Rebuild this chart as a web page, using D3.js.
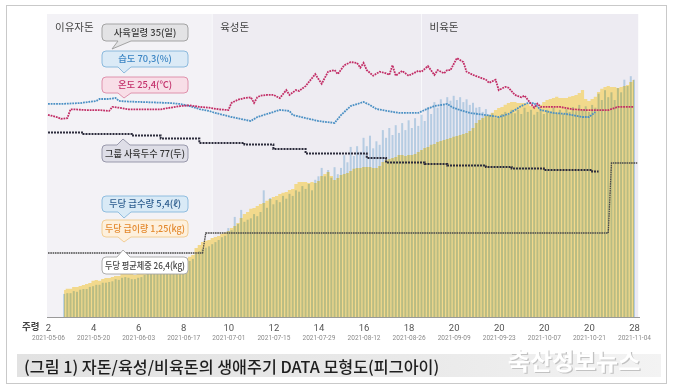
<!DOCTYPE html>
<html>
<head>
<meta charset="utf-8">
<script src="https://cdn.jsdelivr.net/npm/d3@7"></script>
<style>
  body { margin: 0; background: #fff; }
  svg { display: block; font-family: "Noto Sans CJK KR", "Noto Sans", sans-serif; }
</style>
</head>
<body>
<script>
// ---- data ----
var startDate = "2021-05-06";
var dateLabels = ["2021-05-06", "2021-05-20", "2021-06-03", "2021-06-17", "2021-07-01", "2021-07-15", "2021-07-29",
    "2021-08-12", "2021-08-26", "2021-09-09", "2021-09-23", "2021-10-07", "2021-10-21", "2021-11-04"];
var weekLabels = ["2", "4", "6", "8", "10", "12", "14", "16", "18", "20", "20", "20", "20", "28"];

var stageNames = ["이유자돈", "육성돈", "비육돈"];
var stageStarts = ["2021-05-06", "2021-06-26", "2021-08-30"];
var stageEnd = "2021-11-05";

// daily bars start on day 5 (2021-05-11)
var barStartDay = 5;
// feed per head (kg)
var feedKg = [0.84, 0.88, 0.88, 0.94, 0.94, 0.97, 1.00, 1.03, 1.06, 1.13, 1.16, 1.13, 1.19, 1.22, 1.22, 1.25, 1.28, 1.28,
    1.34, 1.38, 1.38, 1.34, 1.31, 1.34, 1.38, 1.47, 1.50, 1.53, 1.56, 1.63, 1.63, 1.66, 1.69, 1.72, 1.75, 1.75, 1.78,
    1.81, 1.84, 1.88, 1.94, 2.16, 2.25, 2.34, 2.38, 2.41, 2.47, 2.50, 2.53, 2.59, 2.63, 2.69, 2.78, 2.84, 2.94, 3.09,
    3.22, 3.28, 3.38, 3.41, 3.47, 3.53, 3.56, 3.63, 3.69, 3.75, 3.78, 3.84, 3.88, 3.91, 3.97, 4.00, 4.16, 4.22, 4.22,
    4.22, 4.19, 4.22, 4.19, 4.25, 4.41, 4.47, 4.53, 4.41, 4.28, 4.34, 4.44, 4.47, 4.50, 4.56, 4.63, 4.66, 4.66, 4.69,
    4.69, 4.69, 4.66, 4.66, 4.72, 4.84, 4.91, 4.94, 4.97, 5.00, 5.06, 5.06, 5.03, 5.06, 5.06, 5.09, 5.16, 5.22, 5.28,
    5.31, 5.38, 5.41, 5.47, 5.50, 5.53, 5.56, 5.59, 5.63, 5.66, 5.69, 5.72, 5.75, 5.81, 5.91, 6.06, 6.16, 6.22, 6.28,
    6.31, 6.38, 6.47, 6.53, 6.56, 6.63, 6.69, 6.72, 6.72, 6.69, 6.69, 6.69, 6.66, 6.59, 6.56, 6.56, 6.63, 6.72, 6.78,
    6.81, 6.84, 6.88, 6.84, 6.84, 6.84, 6.88, 6.91, 6.94, 7.00, 7.09, 6.81, 6.75, 6.81, 6.88, 7.03, 7.13, 7.19, 7.22,
    7.19, 7.19, 7.16, 7.19, 7.22, 7.25, 7.34, 7.41];
// water per head (L)
var waterL = [3.3, 3.4, 3.4, 3.7, 3.6, 3.9, 4.0, 4.0, 4.3, 4.4, 4.6, 4.6, 4.9, 4.9, 5.0, 5.1, 5.4, 5.3, 5.6, 5.7, 5.6,
    5.4, 5.4, 5.6, 5.7, 6.0, 6.3, 6.4, 6.6, 6.9, 6.9, 7.0, 7.1, 7.3, 7.4, 7.4, 7.6, 7.7, 7.9, 8.0, 8.3, 9.0, 9.4, 9.7,
    9.9, 10.1, 10.4, 10.7, 11.0, 11.4, 11.6, 12.7, 12.4, 14.3, 13.3, 15.3, 13.6, 13.9, 14.1, 14.7, 14.4, 15.0, 18.1,
    15.6, 17.0, 16.1, 16.7, 16.4, 17.3, 16.9, 17.6, 17.3, 18.1, 17.9, 18.7, 18.3, 19.0, 18.1, 19.6, 20.1, 21.3, 20.1,
    21.0, 19.9, 21.4, 20.4, 21.3, 23.1, 22.1, 24.3, 23.0, 24.4, 23.6, 25.6, 24.4, 25.9, 24.1, 25.1, 24.6, 26.7, 25.6,
    27.0, 26.0, 27.4, 26.3, 27.7, 26.7, 28.1, 27.0, 28.4, 27.3, 28.9, 28.0, 30.0, 29.0, 30.7, 29.9, 31.1, 30.4, 31.4,
    30.9, 31.6, 31.0, 31.4, 30.7, 31.1, 30.3, 30.6, 29.9, 30.0, 29.3, 29.7, 28.9, 29.1, 28.4, 28.6, 29.0, 29.3, 28.9,
    29.6, 29.1, 29.6, 29.0, 29.9, 29.3, 29.6, 28.9, 29.3, 29.6, 29.0, 29.6, 29.3, 29.9, 29.1, 29.6, 29.0, 29.7, 29.3,
    30.0, 29.4, 30.3, 29.6, 30.1, 29.3, 30.3, 29.9, 31.9, 31.0, 32.4, 31.4, 32.1, 31.0, 32.7, 32.1, 33.9, 33.0, 34.4,
    33.9];

// [day, value]
var tempC = [[0, 24.6], [1, 24.5], [3, 24.3], [4, 24.1], [6, 24.2], [7, 25.3], [8, 25.3], [12, 25.2], [16, 25.2],
    [19, 25.1], [20, 25.6], [22, 25.5], [25, 25.3], [29, 25.3], [32, 25.3], [35, 25.3], [38, 25.5], [41, 25.7],
    [44, 25.8], [47, 25.6], [50, 25.5], [53, 25.3], [56, 25.2], [57, 26.1], [59, 26.5], [61, 26.7], [63, 26.8],
    [64, 26.1], [65, 26.8], [66, 27.0], [68, 27.1], [70, 27.1], [72, 26.7], [74, 27.7], [75, 27.1], [77, 27.7],
    [78, 27.6], [80, 28.2], [83, 29.7], [85, 28.5], [87, 30.0], [89, 30.2], [90, 29.7], [92, 30.8], [94, 31.2],
    [96, 31.1], [97, 30.5], [98, 31.1], [99, 30.2], [101, 29.5], [103, 30.0], [105, 29.8], [106, 29.6], [107, 30.8],
    [108, 29.5], [110, 30.1], [112, 29.5], [115, 30.1], [116, 30.0], [118, 30.7], [120, 29.6], [121, 30.2],
    [123, 29.8], [124, 30.2], [125, 30.2], [127, 31.7], [129, 31.2], [130, 30.0], [132, 29.6], [134, 29.3],
    [136, 29.0], [137, 28.6], [139, 29.0], [140, 27.7], [142, 28.1], [143, 28.0], [145, 27.1], [147, 26.8],
    [148, 27.0], [149, 26.5], [151, 25.5], [152, 26.0], [153, 25.6], [155, 25.6], [159, 25.6], [163, 25.3],
    [167, 25.2], [174, 25.2], [177, 25.6], [180, 25.6], [182, 25.6]];
var humidity = [[0, 67.0], [4, 67.0], [10, 67.6], [15, 69.0], [16, 70.3], [19, 70.3], [21, 71.0], [22, 69.0],
    [25, 68.6], [29, 68.3], [33, 68.0], [38, 67.6], [41, 67.0], [44, 65.6], [47, 63.6], [50, 62.3], [52, 61.0],
    [57, 58.3], [63, 55.6], [65, 58.3], [68, 60.3], [72, 63.0], [75, 62.3], [76, 59.6], [80, 57.6], [84, 55.6],
    [89, 54.3], [91, 59.6], [94, 65.6], [98, 68.3], [100, 66.3], [102, 63.6], [109, 61.0], [115, 61.0], [117, 63.0],
    [120, 65.6], [122, 66.3], [124, 67.0], [126, 64.3], [131, 61.0], [136, 59.6], [140, 58.3], [143, 60.3],
    [147, 65.6], [149, 67.6], [151, 67.6], [153, 63.0], [157, 61.0], [161, 60.3], [166, 58.3], [168, 58.3],
    [170, 61.6]];
var headCount = [[0, 78], [11, 77], [26, 76], [35, 74], [47, 71], [61, 70], [70, 67], [80, 64], [99, 61], [105, 58],
    [117, 57], [124, 56], [136, 55], [144, 54], [154, 53], [169, 52], [171, 52]];
var weightKg = [[0, 26.4], [48, 26.4], [49, 46.4], [174, 46.4], [175, 116.4], [183, 116.4]];

// ---- layout ----
var width = 673;
var height = 388;
var baseY = 317;
var plotTop = 14;

var svg = d3.select("body").append("svg").attr("width", width).attr("height", height);

var parse = d3.utcParse("%Y-%m-%d");
var t0 = parse(startDate);
function dayDate(d) {
    return new Date(t0.getTime() + d * 864e5);
}

var x = d3.scaleUtc().domain([parse(dateLabels[0]), parse(dateLabels[dateLabels.length - 1])]).range([48, 634]);
var yFeed = d3.scaleLinear().domain([0, 8]).range([baseY, 61]);
var yWater = d3.scaleLinear().domain([0, 40]).range([baseY, 37]);
var yTemp = d3.scaleLinear().domain([20, 35]).range([151.7, 31.7]);
var yHum = d3.scaleLinear().domain([40, 80]).range([144.45, 84.45]);
var yHead = d3.scaleLinear().domain([0, 100]).range([249.5, 99.5]);
var yWeight = d3.scaleLinear().domain([0, 120]).range([279.4, 159.4]);

// frame
svg.append("rect").attr("x", 6.5).attr("y", 5.5).attr("width", 660).attr("height", 378)
    .attr("fill", "#fff").attr("stroke", "#c9c9c9");

// stage backgrounds
var stageFill = ["#f3f2f6", "#eeecf2", "#edebf2"];
stageStarts.forEach(function (s, i) {
    var x0 = i === 0 ? x(parse(s)) - 1 : x(parse(s));
    var x1 = i < stageStarts.length - 1 ? x(parse(stageStarts[i + 1])) : x(parse(stageEnd)) + 1;
    svg.append("rect").attr("x", x0).attr("y", plotTop).attr("width", x1 - x0).attr("height", baseY - plotTop)
        .attr("fill", stageFill[i]);
    if (i > 0) {
        svg.append("line").attr("x1", x0).attr("x2", x0).attr("y1", plotTop).attr("y2", baseY)
            .attr("stroke", "#f8f8fb").attr("stroke-width", 1);
    }
    svg.append("text").attr("x", x0 + 8).attr("y", 31).text(stageNames[i])
        .attr("font-size", 10.5).attr("fill", "#444");
});

// feed area
var feedData = feedKg.map(function (v, i) { return { day: barStartDay + i, v: v }; });
var waterData = waterL.map(function (v, i) { return { day: barStartDay + i, v: v }; });

svg.append("path")
    .datum(feedData)
    .attr("fill", "#f2d98c")
    .attr("d", d3.area()
        .x(function (d) { return x(dayDate(d.day)); })
        .y0(baseY)
        .y1(function (d) { return yFeed(d.v); })
        .curve(d3.curveStep));

// water bars (multiply over the feed area)
svg.append("g")
    .selectAll("rect")
    .data(waterData)
    .enter().append("rect")
    .attr("x", function (d) { return x(dayDate(d.day)) - 1; })
    .attr("width", 2)
    .attr("y", function (d) { return yWater(d.v); })
    .attr("height", function (d) { return baseY - yWater(d.v); })
    .attr("fill", "#c3ddef")
    .style("mix-blend-mode", "multiply");

// x axis line
svg.append("line").attr("x1", 47).attr("x2", 640).attr("y1", baseY + 0.5).attr("y2", baseY + 0.5)
    .attr("stroke", "#9a9a9a");

// lines
function lineOf(yScale) {
    return d3.line()
        .x(function (d) { return x(dayDate(d[0])); })
        .y(function (d) { return yScale(d[1]); });
}

svg.append("path").datum(humidity)
    .attr("fill", "none").attr("stroke", "#4b90c4").attr("stroke-width", 1.8)
    .attr("stroke-dasharray", "1.8,0.9")
    .attr("d", lineOf(yHum));

svg.append("path").datum(tempC)
    .attr("fill", "none").attr("stroke", "#c22d66").attr("stroke-width", 1.8)
    .attr("stroke-dasharray", "1.8,0.9")
    .attr("d", lineOf(yTemp));

svg.append("path").datum(headCount)
    .attr("fill", "none").attr("stroke", "#2c2c3c").attr("stroke-width", 2)
    .attr("stroke-dasharray", "2,1")
    .attr("d", lineOf(yHead).curve(d3.curveStepAfter));

svg.append("path").datum(weightKg)
    .attr("fill", "none").attr("stroke", "#4a4a4a").attr("stroke-width", 1.3)
    .attr("stroke-dasharray", "1.6,0.7")
    .attr("d", lineOf(yWeight));

// callouts
function bubble(y0, y1, tail) {
    var x0 = 102, x1 = 188, r = 4;
    var p = "M" + (x0 + r) + "," + y0;
    if (tail.side === "top") p += "L" + tail.a + "," + y0 + "L" + tail.tx + "," + tail.ty + "L" + tail.b + "," + y0;
    p += "L" + (x1 - r) + "," + y0 + "Q" + x1 + "," + y0 + " " + x1 + "," + (y0 + r);
    p += "L" + x1 + "," + (y1 - r) + "Q" + x1 + "," + y1 + " " + (x1 - r) + "," + y1;
    if (tail.side === "bottom") p += "L" + tail.b + "," + y1 + "L" + tail.tx + "," + tail.ty + "L" + tail.a + "," + y1;
    p += "L" + (x0 + r) + "," + y1 + "Q" + x0 + "," + y1 + " " + x0 + "," + (y1 - r);
    p += "L" + x0 + "," + (y0 + r) + "Q" + x0 + "," + y0 + " " + (x0 + r) + "," + y0 + "Z";
    return p;
}

var callouts = [
    { text: "사육일령 35(일)", y0: 24, y1: 41, fill: "#e3e3e5", stroke: "#9b9b9b", color: "#3a3a3a",
        tail: { side: "bottom", a: 118, b: 131, tx: 112, ty: 49 } },
    { text: "습도 70,3(%)", y0: 51, y1: 67, fill: "#dbeaf6", stroke: "#82b4da", color: "#3b85c4",
        tail: { side: "bottom", a: 118, b: 131, tx: 124, ty: 73 } },
    { text: "온도 25,4(℃)", y0: 77, y1: 93, fill: "#f8dee7", stroke: "#dc88a5", color: "#c3306b",
        tail: { side: "bottom", a: 118, b: 131, tx: 124, ty: 98 } },
    { text: "그룹 사육두수 77(두)", y0: 145, y1: 162, fill: "#dedee7", stroke: "#9090a4", color: "#333",
        tail: { side: "top", a: 117, b: 130, tx: 123, ty: 139 } },
    { text: "두당 급수량 5,4(ℓ)", y0: 196, y1: 212, fill: "#d9eaf6", stroke: "#86b8dc", color: "#2d5d8e",
        tail: { side: "bottom", a: 118, b: 131, tx: 124, ty: 218 } },
    { text: "두당 급이량 1,25(kg)", y0: 220, y1: 237, fill: "#fdf0dd", stroke: "#f1c98d", color: "#e3882c",
        tail: { side: "bottom", a: 118, b: 131, tx: 124, ty: 242 } },
    { text: "두당 평균체중 26,4(kg)", y0: 257, y1: 274, fill: "#ffffff", stroke: "#a5a5a5", color: "#444",
        tail: { side: "top", a: 117, b: 130, tx: 123, ty: 250 } }
];

var cg = svg.append("g").selectAll("g").data(callouts).enter().append("g");
cg.append("path")
    .attr("d", function (d) { return bubble(d.y0, d.y1, d.tail); })
    .attr("fill", function (d) { return d.fill; })
    .attr("stroke", function (d) { return d.stroke; })
    .attr("stroke-width", 0.9);
cg.append("text")
    .attr("x", 145)
    .attr("y", function (d) { return (d.y0 + d.y1) / 2 + 3.4; })
    .attr("text-anchor", "middle")
    .attr("font-size", 9.4)
    .attr("font-weight", 500)
    .attr("fill", function (d) { return d.color; })
    .text(function (d) { return d.text; })
    .each(function () {
        // squeeze long labels so they stay inside the bubble
        if (this.getComputedTextLength() > 80) {
            d3.select(this).attr("textLength", 80).attr("lengthAdjust", "spacingAndGlyphs");
        }
    });

// axes
var tickDates = dateLabels.map(function (s) { return parse(s); });

var weekAxis = svg.append("g")
    .attr("transform", "translate(0," + (baseY + 6) + ")")
    .call(d3.axisBottom(x).tickValues(tickDates).tickSize(0)
        .tickFormat(function (d, i) { return weekLabels[i]; }));
weekAxis.select(".domain").remove();
weekAxis.selectAll("text").attr("font-size", 9.5).attr("fill", "#555")
    .attr("font-family", "Roboto, sans-serif").attr("dy", "0.5em");

var dateAxis = svg.append("g")
    .attr("transform", "translate(0," + (baseY + 16) + ")")
    .call(d3.axisBottom(x).tickValues(tickDates).tickSize(0).tickFormat(d3.utcFormat("%Y-%m-%d")));
dateAxis.select(".domain").remove();
dateAxis.selectAll("text").attr("font-size", 7).attr("fill", "#8a8a8a")
    .attr("font-family", "Roboto, sans-serif").attr("dy", "0.6em")
    .attr("textLength", 33).attr("lengthAdjust", "spacingAndGlyphs");

svg.append("text").attr("x", 22).attr("y", 330).text("주령")
    .attr("font-size", 9.5).attr("font-weight", 700).attr("fill", "#444");

// caption
var grad = svg.append("defs").append("linearGradient").attr("id", "capGrad");
grad.append("stop").attr("offset", "0%").attr("stop-color", "#e2e2e2");
grad.append("stop").attr("offset", "60%").attr("stop-color", "#e9e9e9");
grad.append("stop").attr("offset", "100%").attr("stop-color", "#f3f3f3");
svg.append("rect").attr("x", 17).attr("y", 354).attr("width", 644).attr("height", 23).attr("fill", "url(#capGrad)");
svg.append("text").attr("x", 24).attr("y", 372.5).text("(그림 1) 자돈/육성/비육돈의 생애주기 DATA 모형도(피그아이)")
    .attr("font-size", 16.2).attr("font-weight", 500).attr("fill", "#1e1e1e");

// watermark
svg.append("text").attr("x", 509).attr("y", 371).text("축산정보뉴스")
    .attr("font-size", 24).attr("font-weight", 700).attr("fill", "#c2c2c2");
svg.append("text").attr("x", 507.8).attr("y", 369.8).text("축산정보뉴스")
    .attr("font-size", 24).attr("font-weight", 700).attr("fill", "#fff");
</script>
</body>
</html>
